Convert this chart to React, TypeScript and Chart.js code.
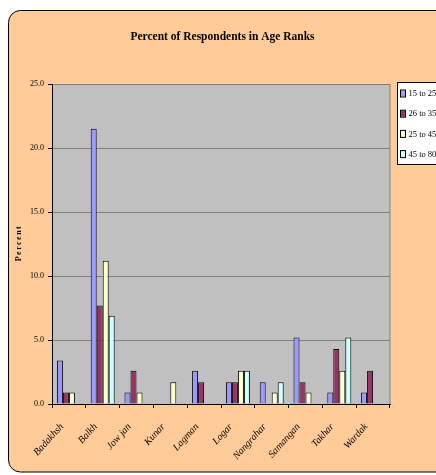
import React, { useEffect, useRef } from "react";
import { Chart, registerables } from "chart.js";

Chart.register(...registerables);

// Provinces along the category axis
const provinces = [
  "Badakhsh",
  "Balkh",
  "Jow jan",
  "Kunar",
  "Lagman",
  "Logar",
  "Nangrahar",
  "Samangan",
  "Takhar",
  "Wardak",
];

// Share of respondents (%) per age rank
const age15to25 = [3.4, 21.5, 0.9, 0, 2.6, 1.7, 1.7, 5.2, 0.9, 0.9];
const age26to35 = [0.9, 7.7, 2.6, 0, 1.7, 1.7, 0, 1.7, 4.3, 2.6];
const age25to45 = [0.9, 11.2, 0.9, 1.7, 0, 2.6, 0.9, 0.9, 2.6, 0];
const age45to80 = [0, 6.9, 0, 0, 0, 2.6, 1.7, 0, 5.2, 0];

const seriesLabels = ["15 to 25", "26 to 35", "25 to 45", "45 to 80"];
const seriesColors = ["#9999FF", "#993366", "#FFFFCC", "#CCFFFF"];

const yTicks = { min: 0, max: 25, step: 5 };

const chartTitle = "Percent of Respondents in Age Ranks";
const yAxisTitle = "Percent";

const SERIF = "'Liberation Serif', 'Times New Roman', serif";

const W = 428;
const H = 467;

// Frame, plot background, title, axis title and boxed legend
const decorations = {
  id: "decorations",
  beforeDraw(chart: any) {
    const { ctx, chartArea } = chart;
    ctx.save();
    // rounded peach frame (runs off the right edge)
    ctx.beginPath();
    ctx.roundRect(0.5, 2.5, W + 20, 461.5, 12);
    ctx.fillStyle = "#FFCC99";
    ctx.fill();
    ctx.strokeStyle = "#000";
    ctx.lineWidth = 1;
    ctx.stroke();
    // plot area
    ctx.fillStyle = "#C0C0C0";
    ctx.fillRect(
      chartArea.left,
      chartArea.top,
      chartArea.right - chartArea.left,
      chartArea.bottom - chartArea.top
    );
    ctx.strokeStyle = "#808080";
    ctx.strokeRect(
      chartArea.left + 0.5,
      chartArea.top + 0.5,
      chartArea.right - chartArea.left - 0.5,
      chartArea.bottom - chartArea.top
    );
    ctx.restore();
  },
  afterDraw(chart: any) {
    const { ctx } = chart;
    ctx.save();
    // title
    ctx.fillStyle = "#000";
    ctx.font = `bold 11.5px ${SERIF}`;
    ctx.textAlign = "center";
    ctx.textBaseline = "middle";
    ctx.fillText(chartTitle, 214.5, 29);

    // y axis title
    ctx.save();
    ctx.translate(11, 235);
    ctx.rotate(-Math.PI / 2);
    ctx.font = `bold 8px ${SERIF}`;
    (ctx as any).letterSpacing = "1.5px";
    ctx.fillText(yAxisTitle, 0, 0);
    ctx.restore();

    // legend
    const lx = 389.5;
    const ly = 74.5;
    ctx.fillStyle = "#fff";
    ctx.fillRect(lx, ly, 60, 82);
    ctx.strokeStyle = "#000";
    ctx.lineWidth = 1;
    ctx.strokeRect(lx, ly, 60, 82);
    ctx.font = `8.5px ${SERIF}`;
    ctx.textAlign = "left";
    ctx.textBaseline = "middle";
    chart.data.datasets.forEach((ds: any, i: number) => {
      const cy = 85.5 + i * 20.2;
      ctx.fillStyle = ds.backgroundColor;
      ctx.fillRect(393, cy - 3, 4, 6);
      ctx.strokeStyle = "#000";
      ctx.strokeRect(392.5, cy - 3.5, 5, 7);
      ctx.fillStyle = "#000";
      ctx.fillText(ds.label, 400.5, cy + 0.5);
    });
    ctx.restore();
  },
};

export default function App() {
  const canvasRef = useRef<HTMLCanvasElement | null>(null);

  useEffect(() => {
    if (!canvasRef.current) return;
    const series = [age15to25, age26to35, age25to45, age45to80];
    const chart = new Chart(canvasRef.current, {
      type: "bar",
      data: {
        labels: provinces,
        datasets: series.map((values, i) => ({
          label: seriesLabels[i],
          data: values,
          backgroundColor: seriesColors[i],
          borderColor: "#000",
          borderWidth: 1,
          categoryPercentage: 0.71,
          barPercentage: 1,
        })),
      },
      options: {
        responsive: false,
        animation: false,
        layout: { padding: { left: 0, right: 46, top: 76, bottom: 0 } },
        plugins: {
          legend: { display: false },
          title: { display: false },
          tooltip: { enabled: false },
        },
        scales: {
          x: {
            offset: true,
            grid: {
              offset: true,
              drawOnChartArea: false,
              drawTicks: true,
              tickLength: 4,
              tickColor: "#000",
            },
            border: { color: "#000", width: 1 },
            ticks: {
              autoSkip: false,
              minRotation: 48,
              maxRotation: 48,
              labelOffset: -7,
              padding: 13,
              color: "#000",
              font: { family: SERIF, size: 10, style: "italic" },
            },
            afterFit(scale: any) {
              scale.height = 71;
            },
          },
          y: {
            min: yTicks.min,
            max: yTicks.max,
            ticks: {
              stepSize: yTicks.step,
              padding: 4,
              color: "#000",
              font: { family: SERIF, size: 8 },
              callback: (v: any) => Number(v).toFixed(1),
            },
            grid: {
              color: "#808080",
              lineWidth: 1,
              tickLength: 4,
              tickColor: "#000",
            },
            border: { color: "#000", width: 1 },
            afterFit(scale: any) {
              scale.width = 44;
            },
          },
        },
      },
      plugins: [decorations],
    });
    return () => chart.destroy();
  }, []);

  return (
    <div style={{ position: "fixed", left: 8, top: 8, width: W, height: H }}>
      <canvas
        ref={canvasRef}
        width={W}
        height={H}
        style={{ width: W, height: H, display: "block" }}
      />
    </div>
  );
}
